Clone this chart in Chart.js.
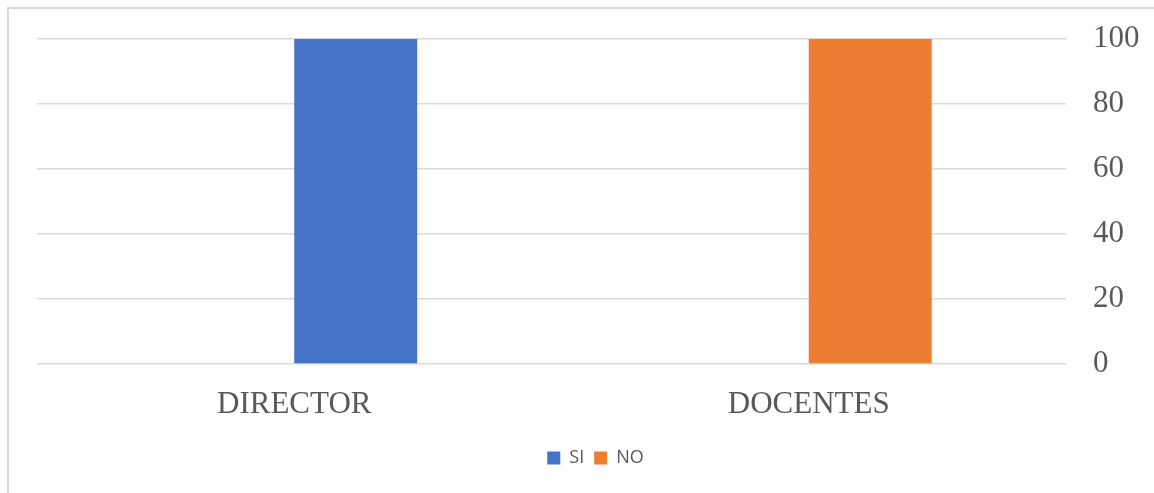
<!DOCTYPE html>
<html lang="es">
<head>
    <meta charset="UTF-8">
    <script src="https://cdn.jsdelivr.net/npm/chart.js"></script>
    <title>SI / NO</title>
    <style>
        body{
            margin: 0;
            padding: 0;
            background-color: #fff;
            overflow: hidden;
        }
        #wrap {
            position: relative;
            width: 1154px;
            height: 493px;
            overflow: hidden;
        }
        #marco {
            position: absolute;
            left: 7px;
            top: 7px;
            width: 1200px;
            height: 600px;
            border: 2px solid #d9d9d9;
            box-sizing: border-box;
        }
        canvas {
            position: absolute;
            left: 0;
            top: 0;
        }
    </style>
</head>
<body>
    <div id="wrap">
        <div id="marco"></div>
        <canvas id="grafico" width="1154" height="493"></canvas>
    </div>

    <script>
        const categorias = ['DIRECTOR', 'DOCENTES'];
        const valoresSi = [100, 0];
        const valoresNo = [0, 100];
        // grupo vacio que ocupa la primera posicion de cada categoria
        const vacio = [0, 0];
        const marcasY = [0, 20, 40, 60, 80, 100];

        const gris = '#595959';

        new Chart(document.getElementById('grafico'), {
            type: 'bar',
            data: {
                labels: categorias,
                datasets: [
                    { label: '', data: vacio, stack: 'a', backgroundColor: 'rgba(0,0,0,0)' },
                    { label: 'SI', data: valoresSi, stack: 'b', backgroundColor: '#4472C4' },
                    { label: 'NO', data: valoresNo, stack: 'b', backgroundColor: '#ED7D31' }
                ]
            },
            options: {
                responsive: false,
                animation: false,
                categoryPercentage: 0.478,
                barPercentage: 1,
                layout: {
                    padding: { left: 37, top: 39, right: 0, bottom: 16 }
                },
                plugins: {
                    tooltip: { enabled: false },
                    legend: {
                        position: 'bottom',
                        labels: {
                            filter: item => item.text !== '',
                            boxWidth: 13,
                            boxHeight: 13,
                            padding: 10,
                            color: gris,
                            font: { family: '"Open Sans"', size: 18 }
                        }
                    }
                },
                scales: {
                    x: {
                        stacked: true,
                        grid: { display: false },
                        border: { display: false },
                        ticks: {
                            color: gris,
                            padding: 14,
                            font: { family: '"Liberation Serif"', size: 31 }
                        },
                        afterFit: scale => { scale.height = 75; }
                    },
                    y: {
                        stacked: true,
                        position: 'right',
                        min: 0,
                        max: 100,
                        afterBuildTicks: scale => {
                            scale.ticks = marcasY.map(v => ({ value: v }));
                        },
                        grid: { color: '#d9d9d9', lineWidth: 1.5, drawTicks: false },
                        border: { display: false },
                        ticks: {
                            color: gris,
                            padding: 27,
                            font: { family: '"Liberation Serif"', size: 31 }
                        },
                        afterFit: scale => {
                            scale.width = 88;
                            scale.paddingTop = 0;
                            scale.paddingBottom = 0;
                        }
                    }
                }
            }
        });
    </script>
</body>
</html>
